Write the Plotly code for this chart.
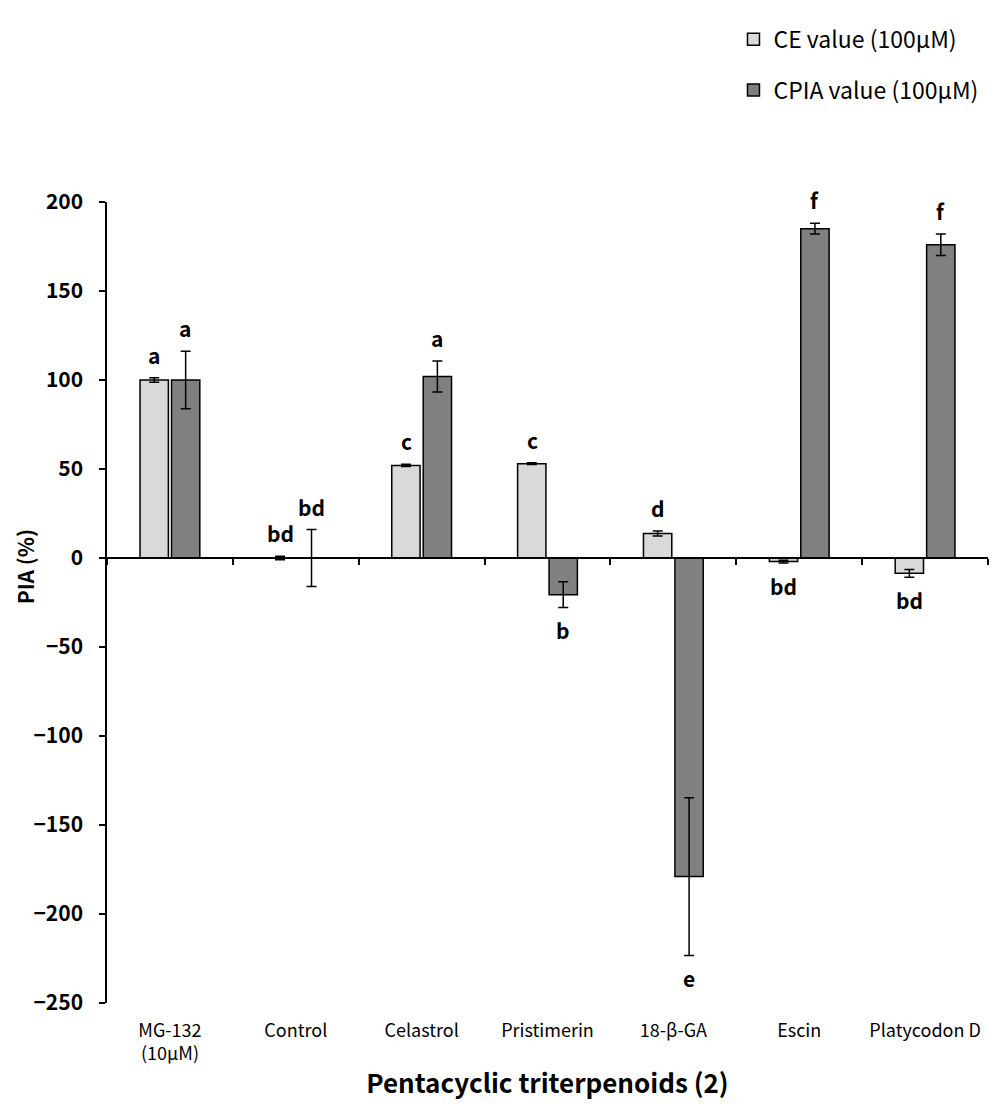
import plotly.graph_objects as go

categories = ["MG-132<br>(10μM)", "Control", "Celastrol", "Pristimerin", "18-β-GA", "Escin", "Platycodon D"]
ce_values = [100, 0, 52, 53, 13.7, -2, -8.6]
ce_errors = [1.2, 1.0, 0.6, 0.5, 1.4, 0.8, 2.2]
cpia_values = [100, 0, 102, -20.6, -179, 185, 176]
cpia_errors = [16.2, 16, 8.7, 7.2, 44.3, 3, 6]
ce_letters = ["a", "bd", "c", "c", "d", "bd", "bd"]
cpia_letters = ["a", "bd", "a", "b", "e", "f", "f"]

FONT = "Noto Sans CJK KR"

fig = go.Figure()
fig.add_trace(go.Bar(
    x=categories, y=ce_values, name="CE value (100μM)",
    marker=dict(color="#d9d9d9", line=dict(color="black", width=1.5)),
    error_y=dict(type="data", array=ce_errors, color="black", thickness=1.5, width=5),
    legendgroup="ce",
))
fig.add_trace(go.Bar(
    x=categories, y=cpia_values, name="CPIA value (100μM)",
    marker=dict(color="#808080", line=dict(color="black", width=1.5)),
    error_y=dict(type="data", array=cpia_errors, color="black", thickness=1.5, width=5),
    legendgroup="cpia",
))
# helper invisible trace for the zero-crossing x axis
fig.add_trace(go.Scatter(
    x=categories, y=[0] * len(categories), xaxis="x2", mode="markers",
    marker=dict(opacity=0), showlegend=False, hoverinfo="skip",
))

annotations = []
for i, cat in enumerate(categories):
    for j, (vals, errs, letters) in enumerate(((ce_values, ce_errors, ce_letters),
                                                (cpia_values, cpia_errors, cpia_letters))):
        v, e = vals[i], errs[i]
        if v >= 0:
            yy, shift = v + e, 23
        else:
            yy, shift = v - e, -23
        annotations.append(dict(
            x=cat, y=yy, xref="x", yref="y", text=letters[i], showarrow=False,
            xshift=(-15.5 if j == 0 else 15.5), yshift=shift, yanchor="middle",
            font=dict(family=FONT, size=21, color="black", weight="bold"),
        ))

annotations.append(dict(
    x=-0.093, y=0.544, xref="paper", yref="paper", text="PIA (%)", textangle=-90,
    xanchor="center", yanchor="middle",
    showarrow=False, font=dict(family=FONT, size=21, color="black", weight="bold"),
))

fig.update_layout(
    width=997, height=1104,
    margin=dict(l=107, r=9, t=202, b=101, autoexpand=False),
    paper_bgcolor="white", plot_bgcolor="white",
    barmode="group", bargap=0.5, bargroupgap=0.1,
    font=dict(family=FONT, color="black"),
    showlegend=True,
    legend=dict(x=0.7111, y=1.23, xanchor="left", yanchor="top",
                font=dict(family=FONT, size=23, color="black"),
                tracegroupgap=18, bgcolor="rgba(0,0,0,0)"),
    xaxis=dict(type="category", categoryarray=categories, range=[-0.5, 6.5],
               showline=False, ticks="", showgrid=False, zeroline=False,
               tickfont=dict(family=FONT, size=18, color="black"),
               ticklabelstandoff=15,
               title=dict(text="Pentacyclic triterpenoids (2)", standoff=10,
                          font=dict(family=FONT, size=26, color="black", weight="bold"))),
    xaxis2=dict(type="category", categoryarray=categories, range=[-0.5, 6.5],
                overlaying="x", anchor="free", position=250 / 450, side="bottom",
                showline=True, linecolor="black", linewidth=1.5,
                ticks="outside", tickson="boundaries", ticklen=6, tickwidth=1.5, tickcolor="black",
                showticklabels=False, showgrid=False, zeroline=False),
    yaxis=dict(range=[-250, 200], dtick=50, tick0=0, showline=True, linecolor="black", linewidth=1.5,
               ticks="outside", ticklen=6, tickwidth=1.5, tickcolor="black",
               showgrid=False, zeroline=False, ticklabelstandoff=12,
               tickfont=dict(family=FONT, size=21, color="black", weight="bold")),
    annotations=annotations,
)

fig.write_html("out.html")
